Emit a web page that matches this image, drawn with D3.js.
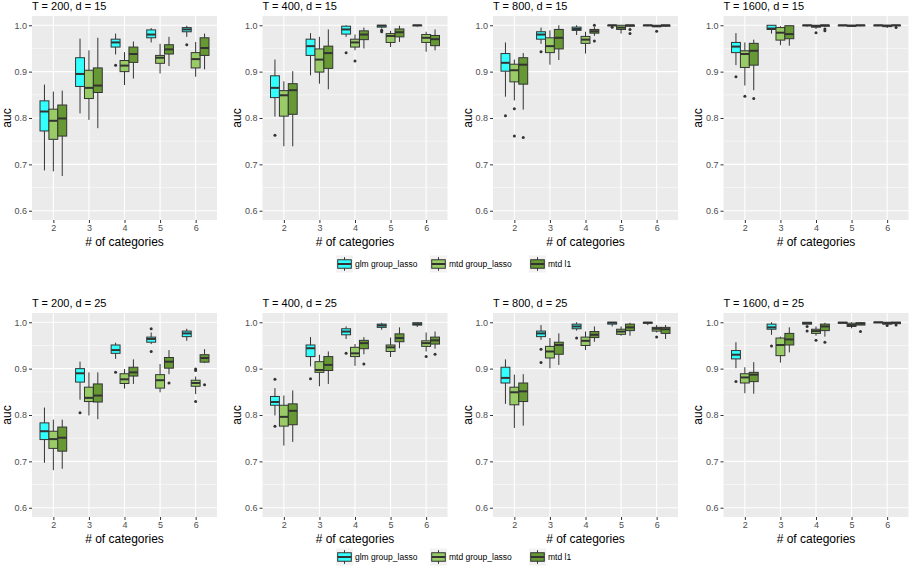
<!DOCTYPE html>
<html><head><meta charset="utf-8">
<script src="https://cdn.jsdelivr.net/npm/d3@7"></script>
<style>body{margin:0;background:#fff} text{font-family:"Liberation Sans",Arial,sans-serif}</style>
</head><body><svg id="c" width="909" height="570"></svg>
<script>
const categories = ["2","3","4","5","6"];
const methods = ["glm group_lasso","mtd group_lasso","mtd l1"];
const methodColors = ["#33FFFF","#99CC66","#669933"];
const yTicks = [0.6,0.7,0.8,0.9,1.0];
const yMinor = [0.65,0.75,0.85,0.95];
const panelTitles = ["T = 200, d = 15","T = 400, d = 15","T = 800, d = 15","T = 1600, d = 15",
                     "T = 200, d = 25","T = 400, d = 25","T = 800, d = 25","T = 1600, d = 25"];
const xTitle = "# of categories";
const yTitle = "auc";

// box stats per category: [lower whisker, q1, median, q3, upper whisker]
// T = 200, d = 15
const p1_glm   = [[0.687,0.772,0.814,0.837,0.872],[0.810,0.868,0.895,0.930,0.971],[0.937,0.953,0.963,0.970,0.982],[0.963,0.973,0.980,0.990,0.994],[0.975,0.986,0.991,0.995,0.999]];
const p1_mtdgl = [[0.685,0.754,0.794,0.819,0.857],[0.796,0.842,0.865,0.903,0.946],[0.871,0.900,0.913,0.924,0.942],[0.896,0.918,0.930,0.935,0.960],[0.889,0.908,0.927,0.941,0.964]];
const p1_mtdl1 = [[0.675,0.761,0.799,0.828,0.859],[0.778,0.855,0.870,0.908,0.973],[0.885,0.920,0.938,0.953,0.965],[0.912,0.938,0.948,0.958,0.975],[0.905,0.935,0.951,0.973,0.982]];
const p1_out   = [["4",0,0.914],["6",0,0.958]];
// T = 400, d = 15
const p2_glm   = [[0.803,0.844,0.865,0.891,0.926],[0.892,0.935,0.955,0.970,0.983],[0.975,0.981,0.991,0.998,1.000],[0.993,0.996,0.999,1.000,1.000],[0.997,0.999,1.000,1.000,1.000]];
const p2_mtdgl = [[0.739,0.804,0.849,0.859,0.879],[0.874,0.899,0.926,0.949,0.975],[0.946,0.953,0.963,0.970,0.980],[0.953,0.963,0.977,0.982,0.988],[0.943,0.963,0.973,0.980,0.986]];
const p2_mtdl1 = [[0.739,0.808,0.860,0.874,0.901],[0.862,0.907,0.940,0.955,0.991],[0.950,0.969,0.980,0.988,0.995],[0.964,0.975,0.985,0.992,0.999],[0.946,0.956,0.970,0.978,0.991]];
const p2_out   = [["2",0,0.763],["4",0,0.941],["5",0,0.989],["5",0,0.986],["4",1,0.923]];
// T = 800, d = 15
const p3_glm   = [[0.846,0.901,0.919,0.939,0.963],[0.960,0.970,0.980,0.986,0.995],[0.979,0.989,0.992,0.996,1.000],[0.998,0.999,1.000,1.000,1.000],[0.998,0.999,1.000,1.000,1.000]];
const p3_mtdgl = [[0.838,0.878,0.903,0.916,0.926],[0.915,0.941,0.955,0.973,0.989],[0.939,0.961,0.969,0.976,0.986],[0.982,0.991,0.995,1.000,1.000],[0.996,0.997,0.998,1.000,1.000]];
const p3_mtdl1 = [[0.818,0.873,0.915,0.930,0.940],[0.925,0.949,0.973,0.991,1.000],[0.977,0.983,0.987,0.991,0.996],[0.996,0.998,1.000,1.000,1.000],[0.997,0.998,1.000,1.000,1.000]];
const p3_out   = [["2",0,0.805],["3",0,0.943],["5",0,0.996],["2",1,0.820],["2",1,0.761],["6",1,0.987],["2",2,0.758],["4",2,1.000],["4",2,0.966],["5",2,0.991],["5",2,0.982]];
// T = 1600, d = 15
const p4_glm   = [[0.914,0.941,0.954,0.963,0.983],[0.982,0.991,0.993,1.000,1.000],[0.997,0.999,1.000,1.000,1.000],[0.998,0.999,1.000,1.000,1.000],[0.998,0.999,1.000,1.000,1.000]];
const p4_mtdgl = [[0.870,0.909,0.938,0.945,0.963],[0.957,0.968,0.984,0.995,0.998],[0.992,0.996,0.998,1.000,1.000],[0.997,0.998,0.999,1.000,1.000],[0.994,0.997,0.999,1.000,1.000]];
const p4_mtdl1 = [[0.860,0.914,0.945,0.961,0.969],[0.956,0.971,0.981,0.999,1.000],[0.997,0.998,1.000,1.000,1.000],[0.998,0.999,1.000,1.000,1.000],[0.997,0.999,1.000,1.000,1.000]];
const p4_out   = [["2",0,0.889],["2",1,0.847],["4",1,0.984],["2",2,0.842],["4",2,0.992],["4",2,0.988],["6",2,0.995]];
// T = 200, d = 25
const p5_glm   = [[0.697,0.747,0.765,0.783,0.816],[0.833,0.871,0.890,0.900,0.915],[0.921,0.933,0.940,0.951,0.956],[0.953,0.957,0.964,0.968,0.978],[0.960,0.969,0.976,0.981,0.986]];
const p5_mtdgl = [[0.681,0.728,0.748,0.765,0.790],[0.799,0.829,0.837,0.860,0.892],[0.857,0.868,0.877,0.889,0.899],[0.849,0.858,0.875,0.887,0.910],[0.845,0.862,0.869,0.875,0.883]];
const p5_mtdl1 = [[0.684,0.722,0.751,0.774,0.790],[0.791,0.828,0.842,0.867,0.892],[0.867,0.884,0.892,0.903,0.920],[0.888,0.901,0.915,0.924,0.940],[0.912,0.914,0.923,0.930,0.942]];
const p5_out   = [["3",0,0.805],["4",0,0.892],["5",0,0.986],["5",0,0.937],["6",1,0.899],["6",1,0.896],["6",1,0.829],["5",2,0.869],["6",2,0.865]];
// T = 400, d = 25
const p6_glm   = [[0.799,0.821,0.828,0.840,0.858],[0.905,0.926,0.944,0.951,0.968],[0.964,0.973,0.980,0.986,0.991],[0.984,0.989,0.993,0.996,0.999],[0.990,0.994,0.996,0.999,1.000]];
const p6_mtdgl = [[0.734,0.776,0.796,0.821,0.842],[0.862,0.892,0.897,0.915,0.930],[0.906,0.926,0.933,0.946,0.953],[0.925,0.937,0.946,0.951,0.967],[0.937,0.948,0.955,0.960,0.978]];
const p6_mtdl1 = [[0.742,0.779,0.809,0.824,0.853],[0.867,0.896,0.908,0.926,0.937],[0.931,0.943,0.955,0.961,0.968],[0.944,0.958,0.966,0.975,0.989],[0.943,0.953,0.961,0.968,0.980]];
const p6_out   = [["2",0,0.877],["2",0,0.776],["3",0,0.878],["4",0,0.933],["6",1,0.926],["4",2,0.910],["6",2,0.931]];
// T = 800, d = 25
const p7_glm   = [[0.824,0.869,0.880,0.903,0.920],[0.962,0.969,0.976,0.981,0.994],[0.982,0.986,0.991,0.996,1.000],[0.991,0.996,0.999,1.000,1.000],[0.994,0.998,0.999,1.000,1.000]];
const p7_mtdgl = [[0.772,0.822,0.849,0.860,0.887],[0.901,0.923,0.937,0.948,0.966],[0.940,0.950,0.960,0.968,0.980],[0.971,0.974,0.980,0.985,0.991],[0.978,0.981,0.986,0.989,0.994]];
const p7_mtdl1 = [[0.777,0.829,0.851,0.869,0.888],[0.908,0.931,0.951,0.957,0.976],[0.958,0.967,0.973,0.980,0.991],[0.971,0.982,0.989,0.996,0.999],[0.964,0.976,0.985,0.989,0.994]];
const p7_out   = [["3",0,0.942],["3",0,0.913],["4",0,0.966],["6",1,0.968]];
// T = 1600, d = 25
const p8_glm   = [[0.901,0.921,0.930,0.939,0.957],[0.973,0.985,0.989,0.996,1.000],[0.996,0.996,0.998,1.000,1.000],[0.998,0.998,0.999,1.000,1.000],[0.999,0.999,1.000,1.000,1.000]];
const p8_mtdgl = [[0.847,0.869,0.881,0.889,0.903],[0.913,0.928,0.951,0.966,0.969],[0.971,0.976,0.981,0.985,0.991],[0.987,0.991,0.994,0.998,1.000],[0.996,0.996,0.998,1.000,1.000]];
const p8_mtdl1 = [[0.846,0.872,0.887,0.892,0.914],[0.935,0.951,0.963,0.976,0.989],[0.969,0.982,0.991,0.996,0.999],[0.994,0.994,0.997,0.999,1.000],[0.997,0.997,0.999,1.000,1.000]];
const p8_out   = [["2",0,0.872],["3",0,0.949],["4",0,0.991],["4",0,0.981],["4",1,0.961],["6",1,0.993],["4",2,0.957],["5",2,0.980],["6",2,0.994]];

const panels = [
  [p1_glm,p1_mtdgl,p1_mtdl1,p1_out],[p2_glm,p2_mtdgl,p2_mtdl1,p2_out],
  [p3_glm,p3_mtdgl,p3_mtdl1,p3_out],[p4_glm,p4_mtdgl,p4_mtdl1,p4_out],
  [p5_glm,p5_mtdgl,p5_mtdl1,p5_out],[p6_glm,p6_mtdgl,p6_mtdl1,p6_out],
  [p7_glm,p7_mtdgl,p7_mtdl1,p7_out],[p8_glm,p8_mtdgl,p8_mtdl1,p8_out]
].map((p,i)=>({title:panelTitles[i], stats:p.slice(0,3), out:p[3]}));

const svg = d3.select("#c");
const PW = 185, PH = 204, rowTops = [16, 313], colStep = 230.5, left0 = 32;
const dark = "#333333";

panels.forEach((p, i) => {
  const col = i % 4, row = Math.floor(i / 4);
  const L = left0 + col * colStep, T = rowTops[row];
  const x = d3.scalePoint().domain(categories).range([L, L + PW]).padding(0.6);
  const y = d3.scaleLinear().domain([0.58, 1.02]).range([T + PH, T]);
  const bw = x.step() * 0.75 / 3;
  const g = svg.append("g");
  g.append("rect").attr("x", L).attr("y", T).attr("width", PW).attr("height", PH).attr("fill", "#EBEBEB");
  g.selectAll(".mn").data(yMinor).join("line").attr("x1", L).attr("x2", L + PW)
    .attr("y1", d => y(d)).attr("y2", d => y(d)).attr("stroke", "#fff").attr("stroke-width", 0.55);
  g.selectAll(".mj").data(yTicks).join("line").attr("x1", L).attr("x2", L + PW)
    .attr("y1", d => y(d)).attr("y2", d => y(d)).attr("stroke", "#fff").attr("stroke-width", 1.1);
  g.selectAll(".mx").data(categories).join("line").attr("y1", T).attr("y2", T + PH)
    .attr("x1", d => x(d)).attr("x2", d => x(d)).attr("stroke", "#fff").attr("stroke-width", 1.1);

  p.stats.forEach((st, m) => {
    st.forEach((s, ci) => {
      const cx = x(categories[ci]) + (m - 1) * bw;
      const [lo, q1, md, q3, hi] = s;
      g.append("line").attr("x1", cx).attr("x2", cx).attr("y1", y(hi)).attr("y2", y(q3)).attr("stroke", dark).attr("stroke-width", 1);
      g.append("line").attr("x1", cx).attr("x2", cx).attr("y1", y(q1)).attr("y2", y(lo)).attr("stroke", dark).attr("stroke-width", 1);
      g.append("rect").attr("x", cx - bw / 2).attr("y", y(q3)).attr("width", bw)
        .attr("height", Math.max(0.5, y(q1) - y(q3))).attr("fill", methodColors[m]).attr("stroke", dark).attr("stroke-width", 1);
      g.append("line").attr("x1", cx - bw / 2).attr("x2", cx + bw / 2).attr("y1", y(md)).attr("y2", y(md)).attr("stroke", dark).attr("stroke-width", 2);
    });
  });
  g.selectAll(".out").data(p.out).join("circle")
    .attr("cx", d => x(d[0]) + (d[1] - 1) * bw).attr("cy", d => y(d[2])).attr("r", 1.5).attr("fill", dark);

  const ya = g.append("g").attr("transform", `translate(${L},0)`)
    .call(d3.axisLeft(y).tickValues(yTicks).tickFormat(d3.format(".1f")).tickSize(3).tickPadding(2));
  const xa = g.append("g").attr("transform", `translate(0,${T + PH})`)
    .call(d3.axisBottom(x).tickSize(3).tickPadding(2));
  [ya, xa].forEach(a => {
    a.select(".domain").remove();
    a.selectAll(".tick line").attr("stroke", dark);
    a.selectAll(".tick text").attr("fill", "#4D4D4D").style("font-size", "9px").style("font-family", '"Liberation Sans",Arial,sans-serif');
  });
  g.append("text").attr("x", L).attr("y", T - 6.5).text(p.title).style("font-size", "11px").attr("fill", "#000");
  g.append("text").attr("x", L + PW / 2).attr("y", T + PH + 26).attr("text-anchor", "middle")
    .text(xTitle).style("font-size", "12px").attr("fill", "#000");
  g.append("text").attr("transform", `translate(${L - 21.5},${T + PH / 2}) rotate(-90)`)
    .attr("text-anchor", "middle").text(yTitle).style("font-size", "12px").attr("fill", "#000");
});

// legends
const legendY = [264, 557];
const keyX = [336, 430, 529];
legendY.forEach(cy => {
  const lg = svg.append("g");
  methods.forEach((m, i) => {
    const k = 17, kx = keyX[i], ky = cy - k / 2;
    lg.append("rect").attr("x", kx).attr("y", ky).attr("width", k).attr("height", k).attr("fill", "#F2F2F2");
    const mx = kx + k / 2;
    lg.append("line").attr("x1", mx).attr("x2", mx).attr("y1", ky + k * 0.1).attr("y2", ky + k * 0.9).attr("stroke", dark);
    lg.append("rect").attr("x", kx + k * 0.1).attr("y", ky + k * 0.25).attr("width", k * 0.8).attr("height", k * 0.5)
      .attr("fill", methodColors[i]).attr("stroke", dark).attr("stroke-width", 1);
    lg.append("line").attr("x1", kx + k * 0.1).attr("x2", kx + k * 0.9).attr("y1", cy).attr("y2", cy).attr("stroke", dark).attr("stroke-width", 2);
    lg.append("text").attr("x", kx + k + 2).attr("y", cy).attr("dy", "0.35em").text(m).style("font-size", "8.5px").attr("fill", "#000");
  });
});
</script></body></html>
